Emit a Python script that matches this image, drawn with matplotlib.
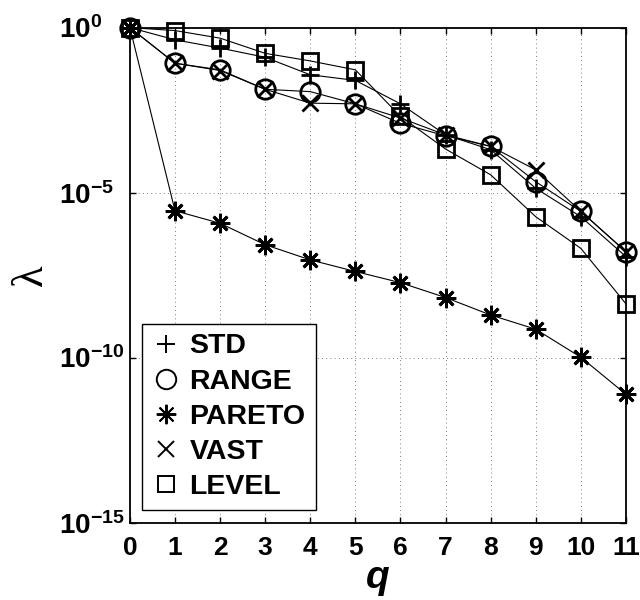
import numpy as np
from matplotlib import pyplot as plt
from matplotlib.lines import Line2D
from matplotlib.ticker import FixedLocator, FixedFormatter, NullLocator

plt.rcParams['font.family'] = ['Liberation Sans', 'DejaVu Sans']
plt.rcParams['mathtext.fontset'] = 'custom'
plt.rcParams['mathtext.rm'] = 'Liberation Sans:bold'
plt.rcParams['mathtext.bf'] = 'Liberation Sans:bold'
plt.rcParams['mathtext.it'] = 'Liberation Sans:bold:italic'

# q steps and log10 of lambda for each method
q = np.arange(12)
series_names = ['STD', 'RANGE', 'PARETO', 'VAST', 'LEVEL']
std_exp = [0, -0.37, -0.62, -0.90, -1.43, -1.60, -2.31, -3.25, -3.70, -4.87, -5.73, -6.94]
range_exp = [0, -1.08, -1.28, -1.87, -1.94, -2.31, -2.90, -3.28, -3.60, -4.67, -5.57, -6.79]
pareto_exp = [0, -5.55, -5.93, -6.58, -7.04, -7.39, -7.73, -8.18, -8.71, -9.14, -9.99, -11.11]
vast_exp = [0, -1.08, -1.30, -1.87, -2.29, -2.31, -2.74, -3.25, -3.60, -4.31, -5.57, -6.79]
level_exp = [0, -0.09, -0.32, -0.78, -1.01, -1.28, -2.69, -3.68, -4.46, -5.73, -6.69, -8.37]

ytick_exp = [-15, -10, -5, 0]

# marker styles (MATLAB-like: +, o, *, x, square)
styles = {
    'STD': dict(marker='+', ms=13.5),
    'RANGE': dict(marker='o', ms=14),
    'PARETO': dict(marker=(8, 2, 0), ms=14),
    'VAST': dict(marker='x', ms=11),
    'LEVEL': dict(marker='s', ms=11.5),
}
data = dict(zip(series_names, [std_exp, range_exp, pareto_exp, vast_exp, level_exp]))

fig = plt.figure(figsize=(6.4, 6.0), dpi=100)
ax = fig.add_axes([0.203, 0.129, 0.775, 0.825])

for name in series_names:
    st = styles[name]
    ax.plot(q, 10.0 ** np.array(data[name]), color='k', lw=0.8,
            marker=st['marker'], ms=st['ms'], mew=2.0, mfc='none', mec='k',
            clip_on=False, zorder=3)

ax.set_yscale('log')
ax.set_xlim(0, 11)
ax.set_ylim(1e-15, 1e0)
ax.set_xticks(q)
ax.set_xticklabels([str(v) for v in q])
ax.yaxis.set_major_locator(FixedLocator([10.0 ** e for e in ytick_exp]))
ax.yaxis.set_major_formatter(FixedFormatter([r'$10^{%d}$' % e for e in ytick_exp]))
ax.yaxis.set_minor_locator(NullLocator())

ax.grid(True, which='major', color='#555555', linestyle=(0, (1, 4)), linewidth=0.6)
ax.tick_params(direction='in', length=4, width=1.0, top=True, right=True)
ax.tick_params(axis='x', labelsize=19, pad=10)
ax.tick_params(axis='y', labelsize=20, pad=51)
for lab in ax.get_xticklabels():
    lab.set_fontweight('bold')
# MATLAB style: the "10" bases line up, exponents stick out to the right
for lab in ax.get_yticklabels():
    lab.set_horizontalalignment('left')
for sp in ax.spines.values():
    sp.set_linewidth(1.3)

ax.set_xlabel('q', fontsize=28, fontweight='bold', fontstyle='italic', labelpad=0)
ax.set_ylabel('λ', fontsize=32, family=['Liberation Serif', 'DejaVu Serif'],
              labelpad=8)
ax.yaxis.set_label_coords(-0.16, 0.5)

handles = [Line2D([], [], color='k', linestyle='none', marker=styles[n]['marker'],
                  ms=styles[n]['ms'], mew=1.4, mfc='none')
           for n in series_names]
leg = ax.legend(handles, series_names, loc='lower left',
                bbox_to_anchor=(0.0236, 0.0257), borderaxespad=0,
                prop={'size': 20.5, 'weight': 'bold'}, fancybox=False,
                edgecolor='k', framealpha=1, handlelength=1.0,
                handletextpad=0.33, labelspacing=0.32, borderpad=0.35)
leg.get_frame().set_linewidth(1.0)

fig.savefig('out.png', dpi=100)
